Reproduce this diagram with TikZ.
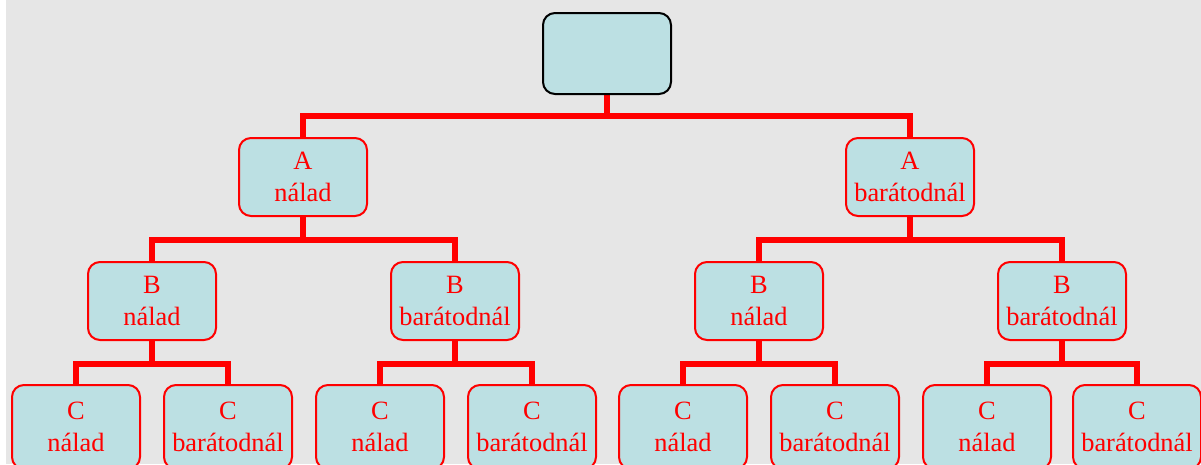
\documentclass[tikz,border=0pt]{standalone}
\usepackage{fontspec}
\setmainfont{Liberation Serif}
\usetikzlibrary{backgrounds}
\definecolor{boxfill}{RGB}{188,224,227}
\definecolor{pagegray}{RGB}{230,230,230}

\begin{document}
\begin{tikzpicture}[x=0.75pt,y=-0.75pt,
    box/.style={draw=red,line width=1.5pt,fill=boxfill,rounded corners=9pt,
      minimum width=96pt,minimum height=58.5pt,inner sep=0pt,align=center,
      text=red,font=\fontsize{19.8}{23.5}\selectfont},
    lowbox/.style={box,minimum height=63pt},
    link/.style={draw=red,line width=4.5pt}]
    \useasboundingbox (0,0) rectangle (1201,464);

    % top box and the two A boxes
    \node[box,draw=black,minimum height=60.75pt] (root) at (607,53.5) {};
    \node[box] (an) at (303,177) {A\\nálad};
    \node[box] (ab) at (910,177) {A\\barátodnál};

    % B level
    \node[box] (ann) at (152,301) {B\\nálad};
    \node[box] (anb) at (455,301) {B\\barátodnál};
    \node[box] (abn) at (759,301) {B\\nálad};
    \node[box] (abb) at (1062,301) {B\\barátodnál};

    % C level, cut off at the bottom
    \node[lowbox] (annn) at (76,427) {C\\nálad};
    \node[lowbox] (annb) at (228,427) {C\\barátodnál};
    \node[lowbox] (anbn) at (380,427) {C\\nálad};
    \node[lowbox] (anbb) at (532,427) {C\\barátodnál};
    \node[lowbox] (abnn) at (683,427) {C\\nálad};
    \node[lowbox] (abnb) at (835,427) {C\\barátodnál};
    \node[lowbox] (abbn) at (987,427) {C\\nálad};
    \node[lowbox] (abbb) at (1137,427) {C\\barátodnál};

    \begin{pgfonlayer}{background}
        \fill[white] (0,0) rectangle (6,464);
        \fill[pagegray] (6,0) rectangle (1201,464);

        \draw[link] (root.south) -- ++(0,21) -| (an.north);
        \draw[link] (root.south) -- ++(0,21) -| (ab.north);

        \draw[link] (an.south) -- ++(0,23) -| (ann.north);
        \draw[link] (an.south) -- ++(0,23) -| (anb.north);
        \draw[link] (ab.south) -- ++(0,23) -| (abn.north);
        \draw[link] (ab.south) -- ++(0,23) -| (abb.north);

        \draw[link] (ann.south) -- ++(0,23) -| (annn.north);
        \draw[link] (ann.south) -- ++(0,23) -| (annb.north);
        \draw[link] (anb.south) -- ++(0,23) -| (anbn.north);
        \draw[link] (anb.south) -- ++(0,23) -| (anbb.north);
        \draw[link] (abn.south) -- ++(0,23) -| (abnn.north);
        \draw[link] (abn.south) -- ++(0,23) -| (abnb.north);
        \draw[link] (abb.south) -- ++(0,23) -| (abbn.north);
        \draw[link] (abb.south) -- ++(0,23) -| (abbb.north);
    \end{pgfonlayer}
\end{tikzpicture}
\end{document}
